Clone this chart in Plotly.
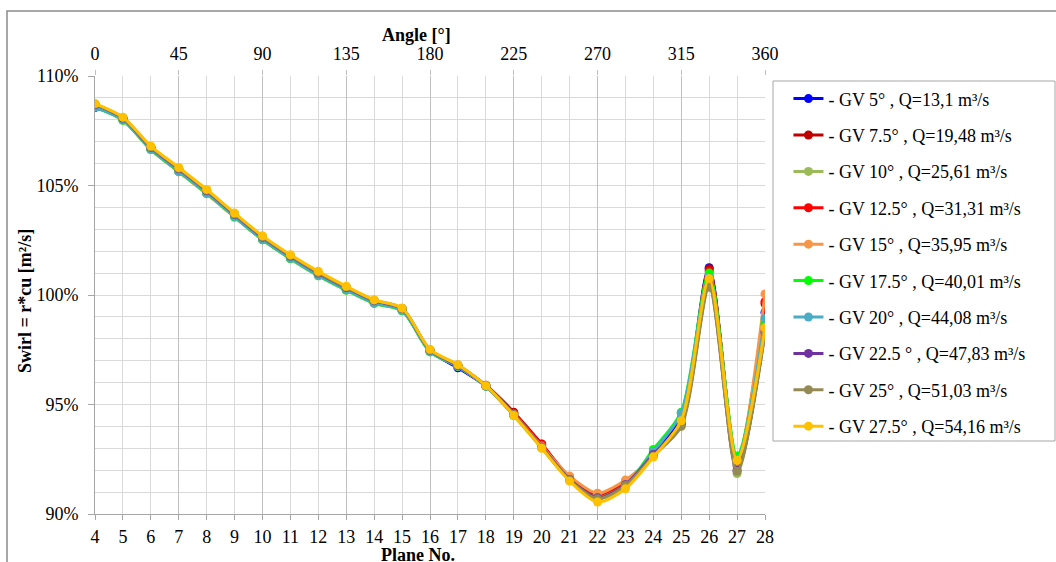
import plotly.graph_objects as go

planes = list(range(4, 29))
angle_ticks = [0, 45, 90, 135, 180, 225, 270, 315, 360]
y_ticks = [90, 95, 100, 105, 110]
y_tick_labels = ["90%", "95%", "100%", "105%", "110%"]

names = [
    "- GV 5° , Q=13,1 m³/s",
    "- GV 7.5° , Q=19,48 m³/s",
    "- GV 10° , Q=25,61 m³/s",
    "- GV 12.5° , Q=31,31 m³/s",
    "- GV 15° , Q=35,95 m³/s",
    "- GV 17.5° , Q=40,01 m³/s",
    "- GV 20° , Q=44,08 m³/s",
    "- GV 22.5 ° , Q=47,83 m³/s",
    "- GV 25° , Q=51,03 m³/s",
    "- GV 27.5° , Q=54,16 m³/s",
]
colors = ["#0000FF", "#C00000", "#9BBB59", "#FF0000", "#F79646",
          "#00FF00", "#4BACC6", "#7030A0", "#948A54", "#FFC000"]

gv05 = [108.56, 108.02, 106.68, 105.66, 104.68, 103.60, 102.56, 101.70, 100.92, 100.25, 99.66, 99.32, 97.45, 96.68, 95.84, 94.58, 93.12, 91.62, 90.75, 91.36, 92.78, 94.38, 101.25, 92.30, 99.20]
gv075 = [108.66, 108.06, 106.72, 105.72, 104.72, 103.64, 102.60, 101.74, 100.96, 100.30, 99.70, 99.36, 97.48, 96.75, 95.88, 94.65, 93.20, 91.66, 90.85, 91.45, 92.70, 94.20, 101.20, 92.20, 99.60]
gv10 = [108.62, 108.00, 106.66, 105.64, 104.66, 103.58, 102.54, 101.68, 100.90, 100.24, 99.64, 99.30, 97.44, 96.74, 95.84, 94.52, 93.08, 91.62, 90.82, 91.40, 92.72, 94.10, 100.70, 91.85, 98.60]
gv125 = [108.64, 108.04, 106.70, 105.70, 104.70, 103.62, 102.58, 101.72, 100.94, 100.28, 99.68, 99.34, 97.46, 96.76, 95.86, 94.60, 93.18, 91.70, 90.90, 91.50, 92.68, 94.24, 101.10, 92.40, 99.70]
gv15 = [108.60, 107.98, 106.64, 105.62, 104.62, 103.56, 102.52, 101.66, 100.88, 100.22, 99.62, 99.28, 97.44, 96.76, 95.86, 94.56, 93.10, 91.73, 90.95, 91.55, 92.65, 94.22, 100.90, 92.40, 100.05]
gv175 = [108.58, 107.98, 106.64, 105.64, 104.64, 103.56, 102.52, 101.66, 100.88, 100.22, 99.62, 99.28, 97.40, 96.74, 95.84, 94.50, 93.02, 91.55, 90.72, 91.30, 92.95, 94.65, 101.00, 92.65, 98.70]
gv20 = [108.58, 108.00, 106.66, 105.66, 104.66, 103.58, 102.54, 101.68, 100.90, 100.24, 99.64, 99.30, 97.42, 96.74, 95.84, 94.52, 93.04, 91.56, 90.70, 91.32, 92.85, 94.60, 100.80, 92.50, 98.93]
gv225 = [108.70, 108.08, 106.74, 105.76, 104.76, 103.68, 102.64, 101.78, 101.00, 100.34, 99.74, 99.38, 97.48, 96.78, 95.86, 94.54, 93.06, 91.58, 90.74, 91.34, 92.72, 94.10, 100.45, 92.00, 98.30]
gv25 = [108.72, 108.10, 106.76, 105.78, 104.78, 103.70, 102.66, 101.80, 101.02, 100.36, 99.76, 99.40, 97.48, 96.80, 95.86, 94.54, 93.04, 91.56, 90.70, 91.30, 92.65, 94.00, 100.35, 91.95, 98.30]
gv275 = [108.74, 108.12, 106.80, 105.82, 104.82, 103.74, 102.70, 101.84, 101.08, 100.40, 99.78, 99.40, 97.52, 96.82, 95.86, 94.50, 93.00, 91.50, 90.55, 91.15, 92.60, 94.26, 100.75, 92.45, 98.50]

series = [gv05, gv075, gv10, gv125, gv15, gv175, gv20, gv225, gv25, gv275]

FONT = "Liberation Serif"
FS = 18

fig = go.Figure()
for i, (nm, col, vals) in enumerate(zip(names, colors, series)):
    fig.add_trace(go.Scatter(
        x=planes, y=vals, name=nm, mode="lines+markers",
        line=dict(color=col, width=3, shape="spline", smoothing=0.8),
        marker=dict(color=col, size=9),
        legendgroup=f"g{i}", xaxis="x", yaxis="y",
    ))

# invisible trace to activate the top angle axis
fig.add_trace(go.Scatter(
    x=angle_ticks, y=[y_ticks[0]] * len(angle_ticks), xaxis="x2", yaxis="y",
    mode="markers", marker=dict(opacity=0), showlegend=False, hoverinfo="skip",
))

title_font = dict(family=FONT, size=FS, color="#000000")

fig.update_layout(
    width=1056, height=562,
    margin=dict(l=95, r=291, t=76, b=48, autoexpand=False),
    paper_bgcolor="white", plot_bgcolor="white",
    font=dict(family=FONT, size=FS, color="#000000"),
    showlegend=True,
    legend=dict(
        x=1.035, y=0.99, xanchor="left", yanchor="top",
        font=dict(family=FONT, size=FS, color="#000000"),
        bgcolor="rgba(0,0,0,0)", borderwidth=0,
        tracegroupgap=10,
    ),
    xaxis=dict(
        range=[4, 28], dtick=1, tick0=4, automargin=False,
        showgrid=True, gridcolor="#D9D9D9", gridwidth=1,
        showline=True, linecolor="#A6A6A6", linewidth=1,
        ticks="outside", ticklen=5, tickcolor="#A6A6A6",
        ticklabelstandoff=1,
        tickfont=dict(family=FONT, size=FS),
        zeroline=False,
    ),
    xaxis2=dict(
        range=[0, 360], tickvals=angle_ticks, overlaying="x", side="top", automargin=False,
        showgrid=True, gridcolor="#BFBFBF", gridwidth=1,
        showline=False,
        ticks="outside", ticklen=5, tickcolor="#BFBFBF",
        ticklabelstandoff=3,
        tickfont=dict(family=FONT, size=FS),
        zeroline=False,
    ),
    yaxis=dict(
        range=[90, 110], tickvals=y_ticks, ticktext=y_tick_labels, automargin=False,
        showgrid=True, gridcolor="#D9D9D9", gridwidth=1,
        minor=dict(dtick=1, tick0=90, showgrid=True, gridcolor="#D9D9D9"),
        showline=True, linecolor="#A6A6A6", linewidth=1,
        ticks="outside", ticklen=6, tickcolor="#A6A6A6",
        ticklabelstandoff=6,
        tickfont=dict(family=FONT, size=FS),
        zeroline=False,
    ),
    annotations=[
        dict(text="<b>Plane No.</b>", xref="paper", yref="paper",
             x=(418 - 95) / 670, y=(514 - 555) / 438, xanchor="center", yanchor="middle",
             showarrow=False, font=title_font),
        dict(text="<b>Angle [°]</b>", xref="paper", yref="paper",
             x=(416 - 95) / 670, y=(514 - 35) / 438, xanchor="center", yanchor="middle",
             showarrow=False, font=title_font),
        dict(text="<b>Swirl = r*cu [m²/s]</b>", xref="paper", yref="paper",
             x=(25 - 95) / 670, y=(514 - 301) / 438, xanchor="center", yanchor="middle",
             textangle=-90, showarrow=False, font=title_font),
    ],
    shapes=[
        # outer chart border
        dict(type="rect", xref="paper", yref="paper",
             x0=(7 - 95) / 670, x1=(1070 - 95) / 670,
             y0=(514 - 580) / 438, y1=(514 - 11) / 438,
             line=dict(color="#8C8C8C", width=1.5), fillcolor="rgba(0,0,0,0)", layer="below"),
        # legend border
        dict(type="rect", xref="paper", yref="paper",
             x0=(773 - 95) / 670, x1=(1055 - 95) / 670,
             y0=(514 - 441) / 438, y1=(514 - 81) / 438,
             line=dict(color="#A6A6A6", width=1), fillcolor="rgba(0,0,0,0)", layer="below"),
    ],
)

fig.write_html("out.html")
